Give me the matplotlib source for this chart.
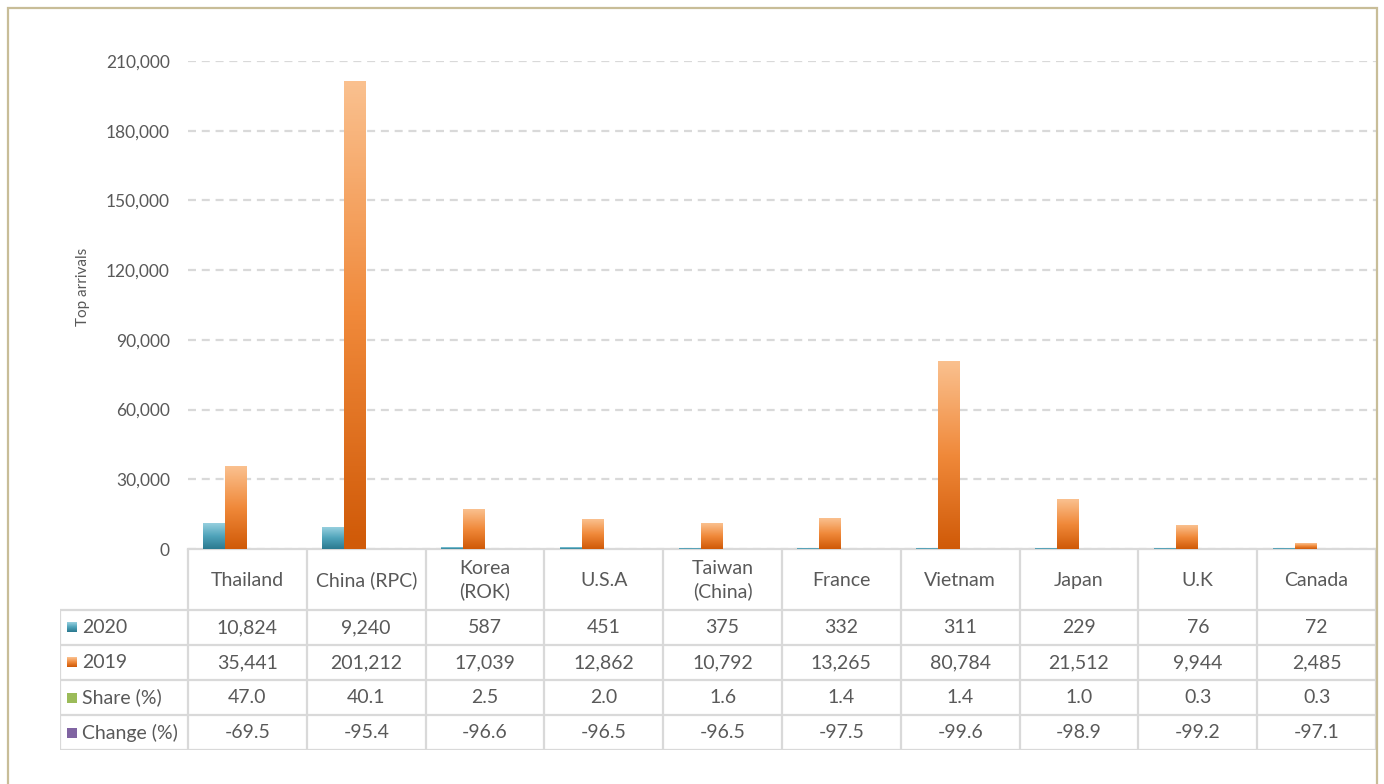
import numpy as np
import matplotlib
matplotlib.use("Agg")
import matplotlib.pyplot as plt
from matplotlib.colors import LinearSegmentedColormap
from matplotlib.patches import Rectangle

plt.rcParams["font.family"] = ["Lato", "DejaVu Sans"]

# ---- data -------------------------------------------------------------------
countries = ["Thailand", "China (RPC)", "Korea\n(ROK)", "U.S.A", "Taiwan\n(China)",
             "France", "Vietnam", "Japan", "U.K", "Canada"]
arr_2020 = [10824, 9240, 587, 451, 375, 332, 311, 229, 76, 72]
arr_2019 = [35441, 201212, 17039, 12862, 10792, 13265, 80784, 21512, 9944, 2485]
share    = [47.0, 40.1, 2.5, 2.0, 1.6, 1.4, 1.4, 1.0, 0.3, 0.3]
change   = [-69.5, -95.4, -96.6, -96.5, -96.5, -97.5, -99.6, -98.9, -99.2, -97.1]
yticks   = [0, 30000, 60000, 90000, 120000, 150000, 180000, 210000]

TXT = "#595959"
GRID = "#D9D9D9"
teal = LinearSegmentedColormap.from_list("teal", ["#2C7A90", "#4FA3BA", "#95CFDE"])
orng = LinearSegmentedColormap.from_list("orng", ["#D05A08", "#F0893A", "#FAC08E"])
green, purple = "#9BBB59", "#8064A2"

W, H = 1384, 784
fig = plt.figure(figsize=(W / 100, H / 100), dpi=100)

# outer frame
fig.patches.append(Rectangle((8 / W, -0.05), (1377 - 8) / W, 1.05 - 8 / H,
                             transform=fig.transFigure, fill=False,
                             ec="#C8BD98", lw=1.6))

ax = fig.add_axes([188 / W, 1 - 549 / H, (1376 - 188) / W, (549 - 61) / H])
x = np.arange(len(countries))
bw = 0.185
series = [(arr_2020, teal), (arr_2019, orng), (share, green), (change, purple)]
for k, (vals, col) in enumerate(series):
    bars = ax.bar(x + (k - 1.5) * bw, vals, bw, color="none", lw=0)
    for b in bars:
        x0, y0 = b.get_x(), b.get_y()
        w, h = b.get_width(), b.get_height()
        if isinstance(col, str):
            ax.add_patch(Rectangle((x0, y0), w, h, color=col, lw=0, zorder=3))
        else:
            grad = np.linspace(0, 1, 64).reshape(-1, 1)
            ax.imshow(grad, extent=[x0, x0 + w, y0, y0 + h], origin="lower",
                      aspect="auto", cmap=col, zorder=3, interpolation="bilinear")

ax.set_xlim(-0.5, len(countries) - 0.5)
ax.set_ylim(0, 210000)
ax.set_yticks(yticks)
ax.set_yticklabels([f"{v:,}" for v in yticks], color=TXT, fontsize=12.5)
ax.tick_params(axis="y", length=0, pad=13)
ax.set_xticks([])
ax.yaxis.grid(True, color=GRID, lw=1.6, ls=(0, (3.6, 2.6)))
ax.set_axisbelow(True)
for s in ["top", "right", "left"]:
    ax.spines[s].set_visible(False)
ax.spines["bottom"].set_color(GRID)
ax.spines["bottom"].set_linewidth(1.6)
ax.set_ylabel("Top arrivals", color=TXT, fontsize=11)
ax.yaxis.set_label_coords((90 - 188) / (1376 - 188), (549 - 287) / (549 - 61))

# ---- data table -------------------------------------------------------------
tx0, tx1, ty0, ty1 = 60, 1376, 549, 750
ta = fig.add_axes([tx0 / W, 1 - ty1 / H, (tx1 - tx0) / W, (ty1 - ty0) / H])
unit = (1376 - 188) / len(countries)
ta.set_xlim(-0.5 - (188 - tx0) / unit, len(countries) - 0.5)
ta.set_ylim(ty1 - ty0, 0)
ta.axis("off")
hdr = 61
rh = (ty1 - ty0 - hdr) / 4
lc = dict(color=GRID, lw=1.6, solid_capstyle="butt")
xl = ta.get_xlim()[0]
for i in range(len(countries) + 1):
    ta.plot([i - 0.5, i - 0.5], [0, ty1 - ty0], **lc)
ta.plot([xl, xl], [hdr, ty1 - ty0], **lc)
for r in range(5):
    yy = hdr + r * rh
    ta.plot([xl, len(countries) - 0.5], [yy, yy], **lc)

for i, c in enumerate(countries):
    ta.text(i, hdr / 2 + 1, c, ha="center", va="center", color=TXT, fontsize=14,
            linespacing=1.35)

rows = [("2020", [f"{v:,}" for v in arr_2020], teal),
        ("2019", [f"{v:,}" for v in arr_2019], orng),
        ("Share (%)", [f"{v:.1f}" for v in share], green),
        ("Change (%)", [f"{v:.1f}" for v in change], purple)]
ku = 10 / unit
for r, (lab, cells, col) in enumerate(rows):
    yc = hdr + (r + 0.5) * rh
    kx = xl + 7 / unit
    if isinstance(col, str):
        ta.add_patch(Rectangle((kx, yc + 5), ku, -10, color=col, lw=0))
    else:
        grad = np.linspace(0, 1, 16).reshape(-1, 1)
        ta.imshow(grad, extent=[kx, kx + ku, yc + 5, yc - 5], origin="lower",
                  aspect="auto", cmap=col, interpolation="bilinear")
    ta.text(xl + 22 / unit, yc, lab, ha="left", va="center", color=TXT, fontsize=14)
    for i, v in enumerate(cells):
        ta.text(i, yc, v, ha="center", va="center", color=TXT, fontsize=14)
ta.set_xlim(-0.5 - (188 - tx0) / unit, len(countries) - 0.5)
ta.set_ylim(ty1 - ty0, 0)

fig.savefig("out.png", dpi=100)
